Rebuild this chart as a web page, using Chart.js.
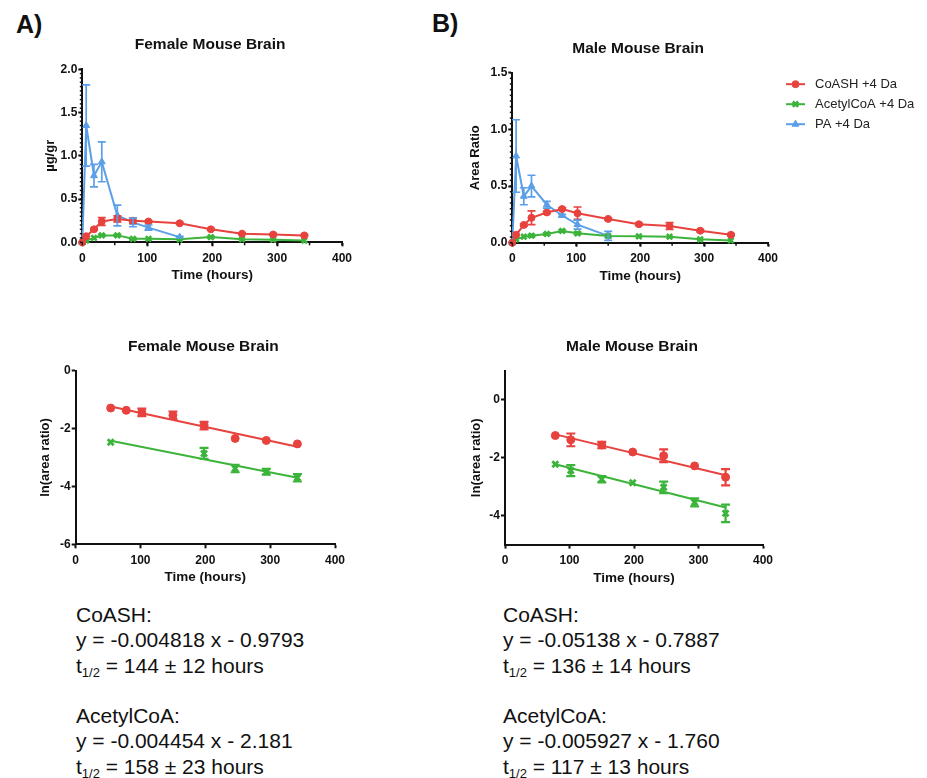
<!DOCTYPE html>
<html>
<head>
<meta charset="utf-8">
<script src="https://cdn.jsdelivr.net/npm/chart.js@4.4.1/dist/chart.umd.min.js"></script>
<style>
  body { margin: 0; background: #fff; }
  #page { position: relative; width: 927px; height: 778px; background: #fff; overflow: hidden;
          font-family: 'Liberation Sans', Arial, sans-serif; color: #111; }
  .box { position: absolute; }
  .panel { position: absolute; font-size: 25px; font-weight: bold; line-height: 25px; }
  .eq { position: absolute; font-size: 21px; line-height: 25.3px; white-space: nowrap; }
  .eq sub { font-size: 13px; line-height: 0; vertical-align: -4px; }
</style>
</head>
<body>
<div id="page">
  <div class="panel" style="left:16px; top:12px;">A)</div>
  <div class="panel" style="left:432px; top:11px;">B)</div>

  <div class="box" style="left:0px; top:0px;"><canvas id="femaleTop" width="420" height="300"></canvas></div>
  <div class="box" style="left:430px; top:0px;"><canvas id="maleTop" width="497" height="300"></canvas></div>
  <div class="box" style="left:0px; top:300px;"><canvas id="femaleLn" width="420" height="300"></canvas></div>
  <div class="box" style="left:430px; top:300px;"><canvas id="maleLn" width="497" height="300"></canvas></div>

  <div class="eq" style="left:76px; top:602px;">
    CoASH:<br>
    y = -0.004818 x - 0.9793<br>
    t<sub>1/2</sub> = 144 &plusmn; 12 hours<br>
    <br>
    AcetylCoA:<br>
    y = -0.004454 x - 2.181<br>
    t<sub>1/2</sub> = 158 &plusmn; 23 hours
  </div>
  <div class="eq" style="left:503px; top:602px;">
    CoASH:<br>
    y = -0.05138 x - 0.7887<br>
    t<sub>1/2</sub> = 136 &plusmn; 14 hours<br>
    <br>
    AcetylCoA:<br>
    y = -0.005927 x - 1.760<br>
    t<sub>1/2</sub> = 117 &plusmn; 13 hours
  </div>
</div>

<script>
// ---- data ----
const timeAll = [0, 6, 18, 30, 54, 78, 102, 150, 198, 246, 294, 342];
const timePA = [0, 6, 18, 30, 54, 78, 102, 150];

// A) female brain, ug/gr
const femCoash     = [0, 0.07, 0.15, 0.24, 0.27, 0.25, 0.24, 0.22, 0.15, 0.10, 0.09, 0.08];
const femCoashSem  = [0, 0, 0.01, 0.045, 0.035, 0.03, 0.01, 0.01, 0.01, 0.01, 0.01, 0.01];
const femAcetyl    = [0, 0.02, 0.05, 0.08, 0.08, 0.04, 0.04, 0.035, 0.06, 0.035, 0.03, 0.02];
const femAcetylSem = [0, 0, 0, 0.01, 0.01, 0.01, 0, 0, 0.01, 0, 0, 0];
const femPA        = [0, 1.35, 0.77, 0.93, 0.31, 0.23, 0.17, 0.06];
const femPASem     = [0, 0.47, 0.13, 0.23, 0.12, 0.05, 0.03, 0.01];

// B) male brain, area ratio
const maleCoash     = [0, 0.07, 0.157, 0.22, 0.267, 0.297, 0.26, 0.21, 0.163, 0.148, 0.106, 0.07];
const maleCoashSem  = [0, 0, 0.01, 0.06, 0.01, 0.01, 0.055, 0.01, 0.01, 0.03, 0.01, 0.01];
const maleAcetyl    = [0, 0.03, 0.053, 0.062, 0.077, 0.104, 0.083, 0.06, 0.056, 0.053, 0.03, 0.02];
const maleAcetylSem = [0, 0, 0, 0.01, 0.01, 0.01, 0.01, 0, 0, 0, 0, 0];
const malePA        = [0, 0.765, 0.41, 0.50, 0.335, 0.24, 0.16, 0.06];
const malePASem     = [0, 0.32, 0.075, 0.095, 0.03, 0.01, 0.04, 0.04];

// ln plots
const femLnTimeCoash  = [54, 78, 102, 150, 198, 246, 294, 342];
const femLnCoash      = [-1.29, -1.37, -1.44, -1.54, -1.90, -2.34, -2.41, -2.53];
const femLnCoashSem   = [0, 0, 0.13, 0.13, 0.13, 0, 0, 0];
const femLnTimeAcetyl = [54, 198, 246, 294, 342];
const femLnAcetyl     = [-2.47, -2.86, -3.38, -3.49, -3.70];
const femLnAcetylSem  = [0, 0.19, 0.13, 0.10, 0.13];
const femFitTime      = [54, 342];
const femFitCoash     = [-1.24, -2.63];
const femFitAcetyl    = [-2.42, -3.70];

const maleLnTime      = [78, 102, 150, 198, 246, 294, 342];
const maleLnCoash     = [-1.23, -1.38, -1.56, -1.80, -1.93, -2.28, -2.67];
const maleLnCoashSem  = [0, 0.22, 0.11, 0, 0.22, 0, 0.28];
const maleLnAcetyl    = [-2.22, -2.44, -2.74, -2.86, -3.02, -3.54, -3.92];
const maleLnAcetylSem = [0, 0.19, 0.11, 0, 0.20, 0.14, 0.30];
const maleFitTime     = [78, 342];
const maleFitCoash    = [-1.19, -2.60];
const maleFitAcetyl   = [-2.22, -3.72];
const maleLnTicks     = [-4, -2, 0];

const seriesNames = ['CoASH +4 Da', 'AcetylCoA +4 Da', 'PA +4 Da'];

// ---- styling ----
const FONT = "'Liberation Sans', Arial, sans-serif";
const RED = '#e8423f', GREEN = '#3cb43c', BLUE = '#5b9fe8';
const INK = '#111';

function pts(xs, ys) { return xs.map((x, i) => ({ x: x, y: ys[i] })); }

// vertical SEM bars, drawn through the chart scales
const errorBars = {
  id: 'errorBars',
  afterDatasetsDraw(chart) {
    const ctx = chart.ctx, xs = chart.scales.x, ys = chart.scales.y;
    chart.data.datasets.forEach(ds => {
      if (!ds.sem) return;
      ctx.save();
      ctx.strokeStyle = ds.borderColor;
      ctx.lineWidth = ds.errWidth || 1.7;
      const cap = ds.capHalf || 4;
      ds.data.forEach((p, j) => {
        const e = ds.sem[j];
        if (!e) return;
        const x = xs.getPixelForValue(p.x);
        const y1 = ys.getPixelForValue(p.y - e), y2 = ys.getPixelForValue(p.y + e);
        ctx.beginPath();
        ctx.moveTo(x, y1); ctx.lineTo(x, y2);
        ctx.moveTo(x - cap, y1); ctx.lineTo(x + cap, y1);
        ctx.moveTo(x - cap, y2); ctx.lineTo(x + cap, y2);
        ctx.stroke();
      });
      ctx.restore();
    });
  }
};

// short unlabeled ticks between the major ones
const minorTicks = {
  id: 'minorTicks',
  afterDraw(chart, args, opts) {
    const ctx = chart.ctx;
    ctx.save();
    ctx.strokeStyle = INK;
    ctx.lineWidth = 1.5;
    if (opts.x) {
      const s = chart.scales.x;
      for (let v = s.min; v <= s.max + 1e-9; v += opts.x) {
        const p = s.getPixelForValue(v);
        ctx.beginPath(); ctx.moveTo(p, s.top); ctx.lineTo(p, s.top + 3); ctx.stroke();
      }
    }
    if (opts.y) {
      const s = chart.scales.y;
      const n = Math.round((s.max - s.min) / opts.y);
      for (let k = 0; k <= n; k++) {
        const p = s.getPixelForValue(s.min + k * opts.y);
        ctx.beginPath(); ctx.moveTo(s.right, p); ctx.lineTo(s.right - 2.5, p); ctx.stroke();
      }
    }
    ctx.restore();
  }
};

// title centred over the plot area
const plotTitle = {
  id: 'plotTitle',
  afterDraw(chart, args, opts) {
    const { ctx, chartArea } = chart;
    ctx.save();
    ctx.font = 'bold 15.5px ' + FONT;
    ctx.fillStyle = INK;
    ctx.textAlign = 'center';
    ctx.textBaseline = 'alphabetic';
    ctx.fillText(opts.text, (chartArea.left + chartArea.right) / 2 - 2, chartArea.top - opts.gap);
    ctx.restore();
  }
};

// GraphPad-like legend: line + symbol + label, to the right of the plot
const sideLegend = {
  id: 'sideLegend',
  afterDraw(chart, args, opts) {
    if (!opts.show) return;
    const { ctx, chartArea } = chart;
    chart.data.datasets.forEach((ds, i) => {
      if (!ds.label) return;
      const y = chartArea.top + 11.5 + i * 20;
      const x0 = chartArea.right + 18;
      ctx.save();
      ctx.strokeStyle = ds.borderColor;
      ctx.fillStyle = ds.borderColor;
      ctx.lineWidth = 2;
      ctx.beginPath(); ctx.moveTo(x0, y); ctx.lineTo(x0 + 19, y); ctx.stroke();
      ctx.lineWidth = ds.pointBorderWidth || 1;
      Chart.helpers.drawPoint(ctx, { pointStyle: ds.pointStyle, radius: ds.pointRadius, borderWidth: ds.pointBorderWidth || 1, rotation: 0 }, x0 + 9.5, y);
      ctx.fillStyle = '#222';
      ctx.font = '13px ' + FONT;
      ctx.textAlign = 'left';
      ctx.textBaseline = 'middle';
      ctx.fillText(ds.label, x0 + 29, y + 0.5);
      ctx.restore();
    });
  }
};

function xAxis() {
  return {
    type: 'linear', min: 0, max: 400,
    ticks: { stepSize: 100, color: INK, padding: 5, font: { family: FONT, size: 12, weight: 'bold' } },
    border: { color: INK, width: 2 },
    grid: { drawOnChartArea: false, drawTicks: true, tickLength: 4, tickColor: INK, tickWidth: 2 },
    title: { display: true, text: 'Time (hours)', color: INK, padding: { top: 0, bottom: 4.5 },
             font: { family: FONT, size: 13.5, weight: 'bold' } },
    afterFit: s => { s.height = 46; }
  };
}

function yAxis(min, max, step, label, width, titlePad, decimals) {
  return {
    type: 'linear', min: min, max: max,
    ticks: { stepSize: step, color: INK, padding: 1, font: { family: FONT, size: 12, weight: 'bold' },
             callback: v => Number(v).toFixed(decimals) },
    border: { color: INK, width: 2 },
    grid: { drawOnChartArea: false, drawTicks: true, tickLength: 4, tickColor: INK, tickWidth: 2 },
    title: { display: true, text: label, color: INK, padding: { top: titlePad, bottom: 0 },
             font: { family: FONT, size: 13, weight: 'bold' } },
    afterFit: s => { s.width = width; }
  };
}

function lineSet(label, color, style, xs, ys, sem, radius, bw) {
  return {
    label: label, data: pts(xs, ys), sem: sem,
    borderColor: color, backgroundColor: color, borderWidth: 2,
    pointStyle: style, pointRadius: radius, pointBorderWidth: bw, pointBackgroundColor: color,
    pointBorderColor: color, showLine: true, tension: 0, clip: false
  };
}

function dotSet(color, style, xs, ys, sem, radius, bw) {
  return {
    data: pts(xs, ys), sem: sem, errWidth: 2.2, capHalf: 4.5,
    borderColor: color, backgroundColor: color,
    pointStyle: style, pointRadius: radius, pointBorderWidth: bw, pointBackgroundColor: color,
    pointBorderColor: color, showLine: false, clip: false
  };
}

function fitSet(color, xs, ys) {
  return {
    data: pts(xs, ys), borderColor: color, backgroundColor: color, borderWidth: 2,
    pointRadius: 0, showLine: true, tension: 0, clip: false
  };
}

const plugins = [errorBars, minorTicks, plotTitle, sideLegend];

function baseOptions(padding, title, yAx, minor, legend) {
  return {
    responsive: false, animation: false, devicePixelRatio: 1,
    layout: { padding: padding },
    scales: { x: xAxis(), y: yAx },
    plugins: {
      legend: { display: false }, tooltip: { enabled: false }, title: { display: false },
      plotTitle: { text: title, gap: 20 },
      minorTicks: minor,
      sideLegend: { show: legend }
    }
  };
}

// A) female, ug/gr
new Chart(document.getElementById('femaleTop'), {
  type: 'scatter',
  data: {
    datasets: [
      lineSet(seriesNames[0], RED, 'circle', timeAll, femCoash, femCoashSem, 3.5, 1),
      lineSet(seriesNames[1], GREEN, 'crossRot', timeAll, femAcetyl, femAcetylSem, 3.8, 2.6),
      lineSet(seriesNames[2], BLUE, 'triangle', timePA, femPA, femPASem, 4, 1)
    ]
  },
  options: baseOptions({ left: 0, top: 69.3, right: 78, bottom: 11.7 }, 'Female Mouse Brain',
    yAxis(0, 2, 0.5, '\u00b5g/gr', 82.3, 43, 1), { x: 50, y: 0.05 }, false),
  plugins: plugins
});

// B) male, area ratio
new Chart(document.getElementById('maleTop'), {
  type: 'scatter',
  data: {
    datasets: [
      lineSet(seriesNames[0], RED, 'circle', timeAll, maleCoash, maleCoashSem, 3.5, 1),
      lineSet(seriesNames[1], GREEN, 'crossRot', timeAll, maleAcetyl, maleAcetylSem, 3.8, 2.6),
      lineSet(seriesNames[2], BLUE, 'triangle', timePA, malePA, malePASem, 4, 1)
    ]
  },
  options: baseOptions({ left: 0, top: 72.7, right: 159, bottom: 11.3 }, 'Male Mouse Brain',
    yAxis(0, 1.5, 0.5, 'Area Ratio', 82.3, 38, 1), { x: 50, y: 0.05 }, true),
  plugins: plugins
});

// female ln plot
new Chart(document.getElementById('femaleLn'), {
  type: 'scatter',
  data: {
    datasets: [
      fitSet(RED, femFitTime, femFitCoash),
      fitSet(GREEN, femFitTime, femFitAcetyl),
      dotSet(RED, 'circle', femLnTimeCoash, femLnCoash, femLnCoashSem, 4, 1),
      dotSet(GREEN, 'crossRot', femLnTimeAcetyl, femLnAcetyl, femLnAcetylSem, 4.2, 2.8)
    ]
  },
  options: baseOptions({ left: 0, top: 70.7, right: 85, bottom: 9.7 }, 'Female Mouse Brain',
    yAxis(-6, 0, 2, 'ln(area ratio)', 75.7, 38, 0), {}, false),
  plugins: plugins
});

// male ln plot
const maleLnY = yAxis(-5, 1, 2, 'ln(area ratio)', 75, 39, 0);
maleLnY.afterBuildTicks = s => { s.ticks = maleLnTicks.map(v => ({ value: v })); };
new Chart(document.getElementById('maleLn'), {
  type: 'scatter',
  data: {
    datasets: [
      fitSet(RED, maleFitTime, maleFitCoash),
      fitSet(GREEN, maleFitTime, maleFitAcetyl),
      dotSet(RED, 'circle', maleLnTime, maleLnCoash, maleLnCoashSem, 4, 1),
      dotSet(GREEN, 'crossRot', maleLnTime, maleLnAcetyl, maleLnAcetylSem, 4.2, 2.8)
    ]
  },
  options: baseOptions({ left: 0, top: 71, right: 164, bottom: 9.4 }, 'Male Mouse Brain',
    maleLnY, {}, false),
  plugins: plugins
});
</script>
</body>
</html>
